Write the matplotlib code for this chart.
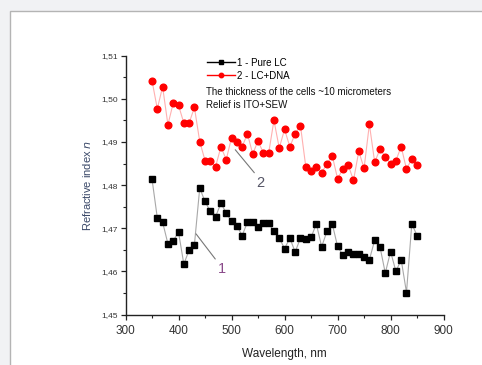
import numpy as np
import matplotlib
matplotlib.use("Agg")
import matplotlib.pyplot as plt
from matplotlib.lines import Line2D
from matplotlib.patches import Rectangle
from matplotlib.ticker import MultipleLocator, FuncFormatter

plt.rcParams['font.family'] = ['Liberation Sans', 'DejaVu Sans']

wavelength = list(range(350, 851, 10))
pure_lc = [1.4814, 1.4724, 1.4714, 1.4664, 1.4671, 1.4691, 1.4617, 1.4649, 1.4662, 1.4793,
           1.4762, 1.4739, 1.4727, 1.4758, 1.4735, 1.4716, 1.4706, 1.4683, 1.4714, 1.4714,
           1.4704, 1.4712, 1.4711, 1.4693, 1.4677, 1.4653, 1.4677, 1.4645, 1.4677, 1.4676,
           1.4679, 1.4710, 1.4657, 1.4693, 1.4710, 1.4658, 1.4637, 1.4646, 1.4641, 1.4640,
           1.4633, 1.4627, 1.4672, 1.4657, 1.4596, 1.4646, 1.4600, 1.4627, 1.4551, 1.4710,
           1.4683]
lc_dna = [1.5042, 1.4977, 1.5028, 1.4940, 1.4990, 1.4985, 1.4944, 1.4944, 1.4980, 1.4901,
          1.4857, 1.4857, 1.4843, 1.4889, 1.4859, 1.4910, 1.4899, 1.4889, 1.4919, 1.4872,
          1.4903, 1.4874, 1.4874, 1.4950, 1.4886, 1.4929, 1.4889, 1.4919, 1.4938, 1.4843,
          1.4832, 1.4843, 1.4829, 1.4849, 1.4868, 1.4815, 1.4837, 1.4847, 1.4811, 1.4878,
          1.4839, 1.4941, 1.4853, 1.4883, 1.4866, 1.4849, 1.4857, 1.4889, 1.4837, 1.4861,
          1.4847]
legend_labels = ["1 - Pure LC", "2 - LC+DNA"]
note_lines = ["The thickness of the cells ~10 micrometers", "Relief is ITO+SEW"]

fig = plt.figure(figsize=(4.82, 3.65), dpi=100)
fig.patch.set_facecolor('#f1f2f4')
fig.patches.append(Rectangle((10/482, -0.05), 1.1, 1 - 11/365 + 0.05, transform=fig.transFigure,
                             facecolor='white', edgecolor='#b4b4b4', linewidth=1.0, zorder=-5))

ax = fig.add_axes([125.5/482, 1 - 314.5/365, (443.6 - 125.5)/482, (314.5 - 55.7)/365])
ax.set_facecolor('none')
ax.set_zorder(2)

ax.plot(wavelength, pure_lc, color='#a8a8a8', lw=0.8, marker='s', ms=4.8,
        mfc='black', mec='black', zorder=3, clip_on=False)
ax.plot(wavelength, lc_dna, color='#ffb0b0', lw=0.8, marker='o', ms=4.8,
        mfc='#ff0000', mec='#ff0000', zorder=3, clip_on=False)

ax.set_xlim(300, 900)
ax.set_ylim(1.45, 1.51)
ax.xaxis.set_major_locator(MultipleLocator(100))
ax.xaxis.set_minor_locator(MultipleLocator(50))
ax.yaxis.set_major_locator(MultipleLocator(0.01))
ax.yaxis.set_minor_locator(MultipleLocator(0.005))
ax.yaxis.set_major_formatter(FuncFormatter(lambda v, p: f"{v:.2f}".replace('.', ',')))
for s in ['top', 'right']:
    ax.spines[s].set_visible(False)
for s in ['left', 'bottom']:
    ax.spines[s].set_linewidth(1.0)
    ax.spines[s].set_color('#222222')
ax.tick_params(axis='both', which='major', length=3.5, width=0.9, color='#222222')
ax.tick_params(axis='both', which='minor', length=2, width=0.8, color='#222222')
ax.tick_params(axis='x', labelsize=8.5, labelcolor='#333333', pad=4)
ax.tick_params(axis='y', labelsize=6, labelcolor='#333333', pad=2)

ax.set_xlabel("Wavelength, nm", fontsize=8.5, color='#222222', labelpad=8)
ax.set_ylabel("Refractive index $\\it{n}$", fontsize=8, color='#3a4868', labelpad=6)

handles = [Line2D([], [], color='black', lw=1, marker='s', ms=3.2),
           Line2D([], [], color='#ff0000', lw=1, marker='o', ms=3.2)]
ax.legend(handles, legend_labels, loc='upper left', bbox_to_anchor=(0.245, 1.008),
          frameon=False, fontsize=7, handlelength=2.8, handletextpad=0.25,
          labelspacing=0.32, borderaxespad=0)
ax.text(0.254, 0.86, note_lines[0], transform=ax.transAxes, fontsize=7, va='center', color='#111111')
ax.text(0.254, 0.81, note_lines[1], transform=ax.transAxes, fontsize=7, va='center', color='#111111')

ax.annotate("2", xy=(507, 1.4882), xytext=(555, 1.4806), fontsize=10.5, color='#555566',
            ha='center', va='center',
            arrowprops=dict(arrowstyle='-', color='#777777', lw=0.8, shrinkA=0, shrinkB=0,
                            relpos=(0.0, 1.0)))
ax.annotate("1", xy=(433, 1.4687), xytext=(481, 1.4606), fontsize=10.5, color='#8a4a8a',
            ha='center', va='center',
            arrowprops=dict(arrowstyle='-', color='#777777', lw=0.8, shrinkA=0, shrinkB=0,
                            relpos=(0.0, 1.0)))

fig.savefig("out.png", dpi=100, facecolor=fig.get_facecolor())
